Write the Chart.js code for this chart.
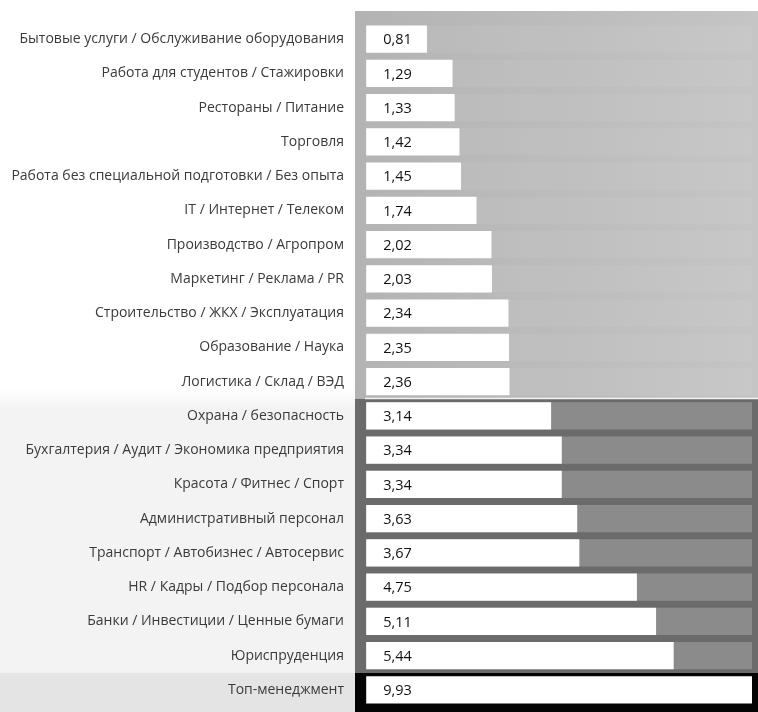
<!DOCTYPE html>
<html>
<head>
<meta charset="utf-8">
<script src="https://cdn.jsdelivr.net/npm/chart.js@4.4.1/dist/chart.umd.min.js"></script>
<style>
  html, body { margin: 0; padding: 0; background: #fff; }
  #wrap { width: 758px; height: 712px; position: relative; }
</style>
</head>
<body>
<div id="wrap"><canvas id="myChart"></canvas></div>
<script>
// Categories, top to bottom
var categories = [
  "Бытовые услуги / Обслуживание оборудования",
  "Работа для студентов / Стажировки",
  "Рестораны / Питание",
  "Торговля",
  "Работа без специальной подготовки / Без опыта",
  "IT / Интернет / Телеком",
  "Производство / Агропром",
  "Маркетинг / Реклама / PR",
  "Строительство / ЖКХ / Эксплуатация",
  "Образование / Наука",
  "Логистика / Склад / ВЭД",
  "Охрана / безопасность",
  "Бухгалтерия / Аудит / Экономика предприятия",
  "Красота / Фитнес / Спорт",
  "Административный персонал",
  "Транспорт / Автобизнес / Автосервис",
  "HR / Кадры / Подбор персонала",
  "Банки / Инвестиции / Ценные бумаги",
  "Юриспруденция",
  "Топ-менеджмент"
];

var values = [0.81, 1.29, 1.33, 1.42, 1.45, 1.74, 2.02, 2.03, 2.34, 2.35, 2.36,
              3.14, 3.34, 3.34, 3.63, 3.67, 4.75, 5.11, 5.44, 9.93];

// how many rows fall in each shaded group (light, dark, black)
var groupSizes = [11, 8, 1];

var xMin = -0.54;
var xMax = 6.91;
var barBase = -0.33;

// group index for a row
function groupOf(i) {
  if (i < groupSizes[0]) return 0;
  if (i < groupSizes[0] + groupSizes[1]) return 1;
  return 2;
}

var trackColors = ['rgba(255,255,255,0.06)', '#8b8b8b', 'rgba(0,0,0,0)'];

// Background panels behind the bars and labels
var bandsPlugin = {
  id: 'bands',
  beforeDraw: function (chart) {
    var ctx = chart.ctx;
    var area = chart.chartArea;
    var y = chart.scales.y;
    var W = chart.width, H = chart.height;
    var step = y.getPixelForValue(1) - y.getPixelForValue(0);
    var split1 = y.getPixelForValue(groupSizes[0]) - step / 2;
    var split2 = y.getPixelForValue(groupSizes[0] + groupSizes[1]) - step / 2;

    ctx.save();
    // label side
    var g = ctx.createLinearGradient(0, split1 - 10, 0, split1 + 10);
    g.addColorStop(0, '#ffffff');
    g.addColorStop(1, '#f3f3f3');
    ctx.fillStyle = g;
    ctx.fillRect(0, split1 - 10, area.left, split2 - split1 + 10);
    ctx.fillStyle = '#e4e4e4';
    ctx.fillRect(0, split2, area.left, H - split2);

    // light panel
    var lg = ctx.createLinearGradient(area.left, 0, W, 0);
    lg.addColorStop(0, '#b3b3b3');
    lg.addColorStop(1, '#c5c5c5');
    ctx.fillStyle = lg;
    ctx.fillRect(area.left, area.top - 11, W - area.left, split1 - area.top + 11);

    // dark panel
    ctx.fillStyle = '#6b6b6b';
    ctx.fillRect(area.left, split1, W - area.left, split2 - split1);

    // black row
    ctx.fillStyle = '#040404';
    ctx.fillRect(area.left, split2, W - area.left, H - split2);

    // thin light line between the panels
    ctx.fillStyle = 'rgba(255,255,255,0.85)';
    ctx.fillRect(area.left + 10, split1 - 1, W - area.left - 10, 1.5);
    ctx.restore();
  }
};

// Value labels inside the white bars
var valueLabels = {
  id: 'valueLabels',
  afterDatasetsDraw: function (chart) {
    var ctx = chart.ctx;
    var meta = chart.getDatasetMeta(1);
    var x0 = chart.scales.x.getPixelForValue(barBase);
    ctx.save();
    ctx.font = '14.5px "Open Sans"';
    ctx.fillStyle = '#111111';
    ctx.textBaseline = 'middle';
    meta.data.forEach(function (bar, i) {
      ctx.fillText(values[i].toFixed(2).replace('.', ','), x0 + 17, bar.y + 1);
    });
    ctx.restore();
  }
};

var ctx = document.getElementById("myChart").getContext("2d");
var myChart = new Chart(ctx, {
  type: "bar",
  data: {
    labels: categories,
    datasets: [
      {
        label: "track",
        data: values.map(function () { return xMax; }),
        backgroundColor: values.map(function (v, i) { return trackColors[groupOf(i)]; }),
        base: barBase,
        order: 2
      },
      {
        label: "value",
        data: values,
        backgroundColor: "#ffffff",
        base: barBase,
        order: 1
      }
    ]
  },
  options: {
    indexAxis: "y",
    responsive: true,
    maintainAspectRatio: false,
    animation: false,
    layout: {
      padding: { top: 22, bottom: 5, right: 6, left: 0 }
    },
    datasets: {
      bar: {
        grouped: false,
        borderWidth: 0,
        barPercentage: 0.79,
        categoryPercentage: 1
      }
    },
    plugins: {
      legend: { display: false },
      tooltip: { enabled: false }
    },
    scales: {
      x: {
        display: false,
        min: xMin,
        max: xMax
      },
      y: {
        grid: { display: false },
        border: { display: false },
        ticks: {
          color: "#3a3a3a",
          padding: 3,
          font: { family: "Open Sans", size: 14 }
        },
        afterFit: function (scale) {
          scale.width = 355;
          scale.paddingTop = 0;
          scale.paddingBottom = 0;
        }
      }
    }
  },
  plugins: [bandsPlugin, valueLabels]
});
</script>
</body>
</html>
